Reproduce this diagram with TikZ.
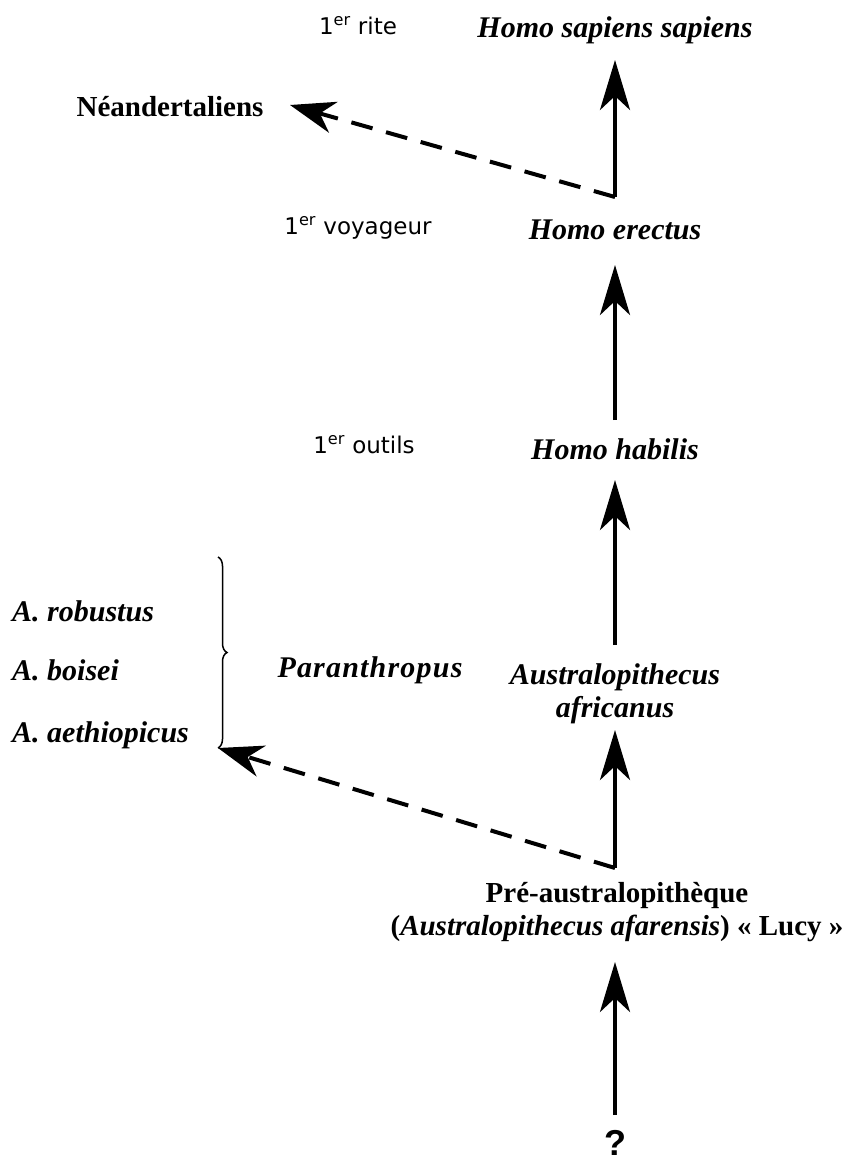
\documentclass[tikz,border=0pt]{standalone}
\usepackage{fontspec}
\setmainfont{Liberation Serif}
\newfontfamily\notefont{DejaVu Sans}
\newfontfamily\qfont{Liberation Sans}
\usetikzlibrary{arrows.meta,decorations.pathreplacing}

\tikzset{
  species/.style={font=\fontsize{30}{33}\selectfont\bfseries\itshape, inner sep=0pt, align=center},
  groupname/.style={font=\fontsize{29}{33}\selectfont\bfseries, inner sep=0pt, align=center},
  sidenote/.style={font=\notefont\fontsize{23}{26}\selectfont, inner sep=0pt},
  subspecies/.style={font=\fontsize{30}{33}\selectfont\bfseries\itshape, inner sep=0pt, anchor=west},
  lineage/.style={line width=4pt, -{Stealth[length=50pt, width=30pt, inset=14pt]}},
  offshoot/.style={line width=4pt, dash pattern=on 22pt off 14pt, line join=round,
                   -{Stealth[length=45pt, width=32pt, inset=14pt]}},
}

\begin{document}
\begin{tikzpicture}[x=1pt, y=-1pt]
  \useasboundingbox (0,0) rectangle (851,1164);

  % species along the main line
  \node[species] (sapiens) at (615,30) {Homo sapiens sapiens};
  \node[species] (erectus) at (615,230) {Homo erectus};
  \node[species] (habilis) at (615,449) {Homo habilis};
  \node[species] (africanus) at (615,694) {Australopithecus\\africanus};
  \node[groupname] (lucy) at (617,912)
    {Pré-australopithèque\\(\textit{Australopithecus afarensis}) « Lucy »};
  \node[font=\qfont\fontsize{36}{40}\selectfont\bfseries, inner sep=0pt] (origin) at (615,1143) {?};

  % side branches
  \node[groupname] (neand) at (170,107) {Néandertaliens};
  \node[subspecies] (robustus) at (12,611) {A. robustus};
  \node[subspecies] (boisei) at (12,670) {A. boisei};
  \node[subspecies] (aethiop) at (12,735) {A. aethiopicus};
  \node[species, font=\fontsize{30}{33}\selectfont\bfseries\itshape\addfontfeature{LetterSpace=4}] (paran) at (370,670) {Paranthropus};

  % milestones
  \node[sidenote] (rite) at (358,26) {1\textsuperscript{er} rite};
  \node[sidenote] (voyageur) at (358,228) {1\textsuperscript{er} voyageur};
  \node[sidenote] (outils) at (364,445) {1\textsuperscript{er} outils};

  % branching points and arrow tips
  \coordinate (forkE) at (615,197);
  \coordinate (forkL) at (615,868);
  \coordinate (neandTip) at (290,105);
  \coordinate (paranTip) at (218,748);
  \coordinate (braceTop) at (218,557);

  % main lineage
  \draw[lineage] (forkE) -- (sapiens.south |- 0,60);
  \draw[lineage] (habilis.north |- 0,420) -- (erectus.south |- 0,265);
  \draw[lineage] (africanus.north |- 0,645) -- (habilis.south |- 0,480);
  \draw[lineage] (forkL) -- (africanus.south |- 0,730);
  \draw[lineage] (origin.north |- 0,1115) -- (origin.north |- 0,962);

  % offshoots
  \draw[offshoot] (forkE) -- (neandTip);
  \draw[offshoot] (forkL) -- (paranTip);

  % brace gathering the robust australopithecines
  \draw[line width=1.5pt, decorate, decoration={brace, amplitude=9pt}] (braceTop) -- (paranTip);
\end{tikzpicture}
\end{document}
